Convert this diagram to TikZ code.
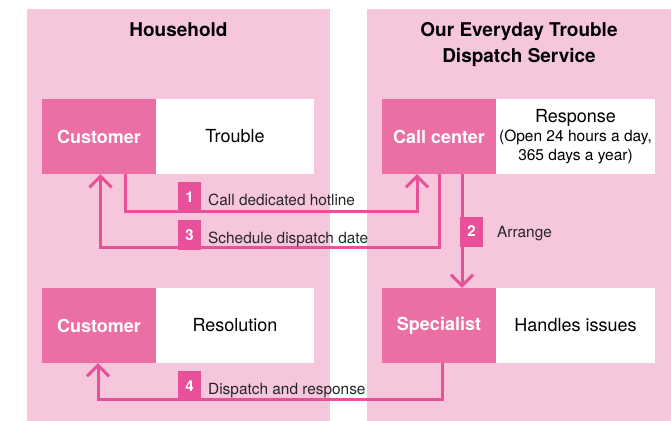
\documentclass[tikz,border=0pt]{standalone}
\usepackage{fontspec}
\setmainfont{TeX Gyre Heros}
\usetikzlibrary{arrows.meta,calc}
\definecolor{panel}{HTML}{F5C6DC}
\definecolor{boxpink}{HTML}{EB6EA4}
\definecolor{linepink}{HTML}{E8519A}
\begin{document}
\begin{tikzpicture}[x=1pt,y=-1pt,
 panelbox/.style={fill=panel, draw=none},
 actor/.style={fill=boxpink, text=white, minimum width=114pt, minimum height=75pt, inner sep=0pt, font=\fontsize{18}{20}\selectfont\bfseries},
 desc/.style={fill=white, minimum width=158.5pt, minimum height=75pt, inner sep=0pt, font=\fontsize{18}{20}\selectfont, align=center},
 numbox/.style={fill=linepink, text=white, minimum width=23pt, minimum height=30pt, inner sep=0pt, font=\fontsize{15}{17}\selectfont\bfseries},
 steplabel/.style={anchor=base west, inner sep=0pt, font=\fontsize{15.4}{17}\selectfont, text=black!85},
 conn/.style={draw=linepink, line width=3pt},
 arr/.style={conn, -{Straight Barb[length=11pt,width=22pt]}},
 heading/.style={font=\fontsize{19}{26}\selectfont\bfseries, align=center, inner sep=0pt}
]
\useasboundingbox (0,0) rectangle (671,420);
% panels
\fill[panel] (27,9) rectangle (330,426);
\fill[panel] (367,9) rectangle (677,426);
% headings
\node[heading, anchor=base] (h1) at (178.5,37) {Household};
\node[heading, anchor=base] (h2) at (519,63) {Our Everyday Trouble\\Dispatch Service};
% boxes
\node[actor] (cust1) at (99,136.5) {Customer};
\node[desc] (trouble) at (235,136.5) {Trouble};
\node[actor] (call) at (439,136.5) {Call center};
\node[desc] (resp) at (575.5,136.5) {{\fontsize{18}{20}\selectfont Response}\\[-1pt]{\fontsize{15.5}{18.5}\selectfont (Open 24 hours a day,}\\[-1pt]{\fontsize{15.5}{18.5}\selectfont 365 days a year)}};
\node[actor] (cust2) at (99,325.5) {Customer};
\node[desc] (resol) at (235,325.5) {Resolution};
\node[actor] (spec) at (439,325.5) {Specialist};
\node[desc] (handles) at (575.5,325.5) {Handles issues};
% turning rows
\coordinate (y1) at (0,211);
\coordinate (y3) at (0,247.5);
\coordinate (y4) at (0,399);
% connectors
\draw[arr] ([xshift=26pt]cust1.south) -- ([xshift=26pt]cust1.south |- y1) -| ([xshift=-22pt]call.south);
\draw[arr] (call.south) -- (call.south |- y3) -| ([xshift=1.5pt]cust1.south);
\draw[arr] ([xshift=23pt]call.south) -- ([xshift=23pt]spec.north);
\draw[arr] ([xshift=3pt]spec.south) -- ([xshift=3pt]spec.south |- y4) -| ([xshift=-1pt]cust2.south);
% number boxes
\node[numbox] (n1) at (189.5,197) {1};
\node[numbox] (n3) at (189.5,235) {3};
\node[numbox] (n2) at (471.5,231.5) {2};
\node[numbox] (n4) at (189.5,386) {4};
% labels
\node[steplabel] (l1) at (208,205) {Call dedicated hotline};
\node[steplabel] (l3) at (208,243.5) {Schedule dispatch date};
\node[steplabel] (l2) at (497,237.7) {Arrange};
\node[steplabel] (l4) at (208,394) {Dispatch and response};
\end{tikzpicture}
\end{document}
